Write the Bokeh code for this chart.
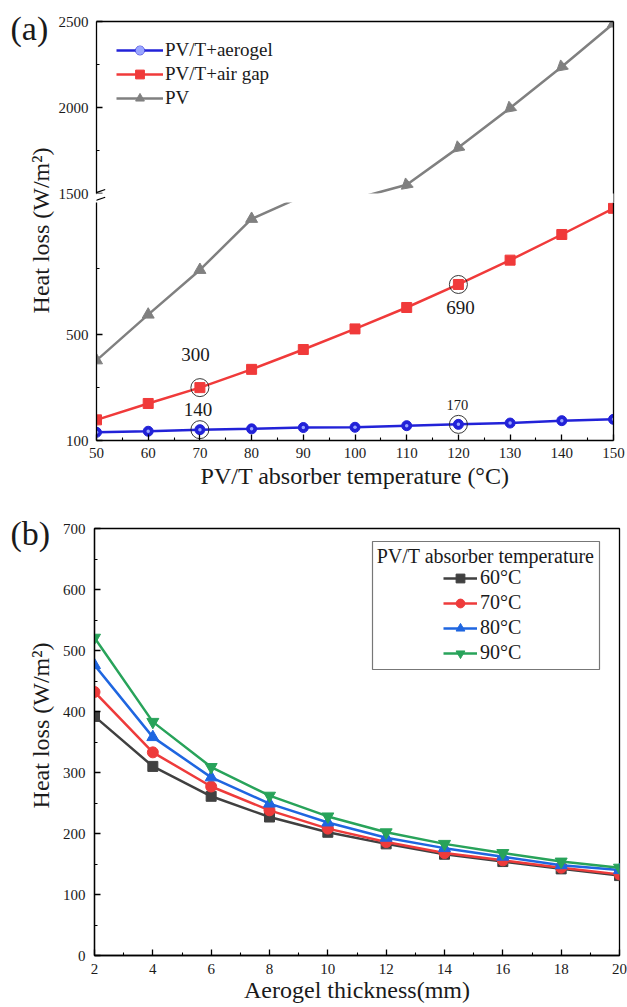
import math
from bokeh.plotting import figure
from bokeh.models import (Range1d, LinearAxis, FixedTicker, Legend, LegendItem,
                          Label, BoxAnnotation, Arrow)
from bokeh.layouts import column, row
from bokeh.embed import file_html
from bokeh.resources import INLINE

# ---------------- data: panel (a) ----------------
temps = [50, 60, 70, 80, 90, 100, 110, 120, 130, 140, 150]
aerogel = [131, 135, 141, 144, 149, 150, 156, 161, 166, 175, 180]
air_gap = [178, 240, 300, 369, 444, 522, 603, 690, 782, 879, 978]
pv = [403, 576, 745, 938, 1025, 1470, 1551, 1767, 1997, 2237, 2488]
ann_temps = [70, 70, 120, 120]
ann_series = ["air_gap", "aerogel", "air_gap", "aerogel"]
ann_texts = ["300", "140", "690", "170"]
break_low, break_high = 1000, 1500

# ---------------- data: panel (b) ----------------
thickness = [2, 4, 6, 8, 10, 12, 14, 16, 18, 20]
hl_60 = [392, 310, 261, 227, 202, 183, 166, 154, 142, 131]
hl_70 = [432, 333, 277, 238, 208, 186, 168, 156, 144, 133]
hl_80 = [476, 358, 292, 249, 218, 193, 176, 162, 148, 140]
hl_90 = [521, 383, 309, 262, 228, 202, 183, 168, 154, 144]
b_labels = ["60°C", "70°C", "80°C", "90°C"]

FONT = "Liberation Serif"
BLUE, RED, GRAY = "#2222d8", "#f03a3a", "#808080"
B_COLORS = ["#404040", "#ee3b3b", "#1f66e0", "#28a35a"]
B_MARKERS = ["square", "circle", "triangle", "inverted_triangle"]
B_SIZES = [10, 11, 12, 12]


def style_axis(ax, standoff=9):
    ax.axis_line_color = "black"
    ax.axis_line_width = 1.3
    ax.major_tick_line_color = "black"
    ax.major_tick_line_width = 1.3
    ax.minor_tick_line_color = "black"
    ax.minor_tick_line_width = 1.1
    ax.major_tick_in = 6
    ax.major_tick_out = 0
    ax.minor_tick_in = 3
    ax.minor_tick_out = 0
    ax.major_label_text_font = FONT
    ax.major_label_text_font_size = "15px"
    ax.major_label_text_color = "#1a1a1a"
    ax.major_label_standoff = standoff
    ax.axis_label_text_font = FONT
    ax.axis_label_text_font_style = "normal"
    ax.axis_label_text_font_size = "24px"
    ax.axis_label_text_color = "#1a1a1a"
    ax.axis_label_standoff = 2


def border_axis(fig, side):
    ax = LinearAxis(ticker=FixedTicker(ticks=[]), axis_line_color="black",
                    axis_line_width=1.3, major_tick_line_color=None,
                    minor_tick_line_color=None, major_label_text_font_size="0px")
    fig.add_layout(ax, side)


def base_fig(width, height, xr, yr, left, right, top, bottom, **kw):
    p = figure(width=width, height=height, x_range=xr, y_range=yr,
               output_backend="svg", toolbar_location=None,
               min_border_left=left, min_border_right=right,
               min_border_top=top, min_border_bottom=bottom,
               background_fill_color="white", border_fill_color="white",
               outline_line_color=None, **kw)
    p.grid.visible = False
    return p


def strip_fig(height, tag, tag_y, label_y):
    s = figure(width=55, height=height, x_range=Range1d(0, 1), y_range=Range1d(0, 1),
               output_backend="svg", toolbar_location=None, min_border=0,
               x_axis_location=None, y_axis_location=None, outline_line_color=None,
               border_fill_color="white", background_fill_color="white")
    s.grid.visible = False
    s.add_layout(Label(x=10, y=tag_y, x_units="screen", y_units="screen", text=tag,
                       text_font=FONT, text_font_size="34px", text_align="left",
                       text_baseline="middle", text_color="#1a1a1a"))
    s.add_layout(Label(x=40, y=label_y, x_units="screen", y_units="screen",
                       text="Heat loss (W/m²)", angle=math.pi / 2,
                       text_font=FONT, text_font_size="24px", text_align="center",
                       text_baseline="middle", text_color="#1a1a1a"))
    return s


def draw_top(p, upper=False):
    mk_t = [t for t, v in zip(temps, pv) if (v >= break_high or not upper)]
    mk_v = [v for v in pv if (v >= break_high or not upper)]
    mk_a = [2.27 if (upper and t < temps[-1]) else 0 for t in mk_t]
    r_pv_l = p.line(temps, pv, line_color=GRAY, line_width=2.5)
    r_pv_m = p.scatter(mk_t, mk_v, marker="triangle", size=12, angle=mk_a,
                       fill_color=GRAY, line_color=GRAY)
    r_air_l = p.line(temps, air_gap, line_color=RED, line_width=2.5)
    r_air_m = p.scatter(temps, air_gap, marker="square", size=10,
                        fill_color=RED, line_color=RED)
    r_ag_l = p.line(temps, aerogel, line_color=BLUE, line_width=2.5)
    r_ag_m = p.scatter(temps, aerogel, marker="circle", size=10,
                       fill_color=BLUE, line_color=BLUE)
    r_ag_h = p.scatter(temps, aerogel, marker="circle", size=3.5,
                       fill_color="#9aa6ff", line_color=None)
    return [r_ag_l, r_ag_m, r_ag_h], [r_air_l, r_air_m], [r_pv_l, r_pv_m]


# ---------------- panel (a): upper part of the broken axis ----------------
up = base_fig(572, 202, Range1d(50, 150), Range1d(1448, 2500), 38, 14, 21, 0,
              x_axis_location=None)
up.yaxis.ticker = FixedTicker(ticks=[1500, 2000, 2500], minor_ticks=[1750, 2250])
up.yaxis.bounds = (break_high, 2500)
style_axis(up.yaxis[0], 8)
border_axis(up, "above")
border_axis(up, "right")
ag_r, air_r, pv_r = draw_top(up, upper=True)
legend_a = Legend(items=[LegendItem(label="PV/T+aerogel", renderers=ag_r),
                         LegendItem(label="PV/T+air gap", renderers=air_r),
                         LegendItem(label="PV", renderers=pv_r)],
                  location=(20, 93), glyph_width=47, glyph_height=22,
                  label_height=22, spacing=2, padding=0, margin=0,
                  label_standoff=2, border_line_color=None,
                  background_fill_alpha=0, label_text_font=FONT,
                  label_text_font_size="19px", label_text_color="#1a1a1a")
up.add_layout(legend_a)
# white gap of the axis break, then the break marks
up.add_layout(BoxAnnotation(left=0, right=519, bottom=0, top=9,
                            left_units="screen", right_units="screen",
                            top_units="screen", bottom_units="screen",
                            fill_color="white", fill_alpha=1, line_color=None))
for xs, ys, xe, ye in [(-6.3, 7.7, 8.7, 13.0), (-6.3, 0.3, 8.7, 5.3)]:
    up.add_layout(Arrow(end=None, x_start=xs, y_start=ys, x_end=xe, y_end=ye,
                        start_units="screen", end_units="screen",
                        line_color="black", line_width=1.2))

# ---------------- panel (a): lower part ----------------
low = base_fig(572, 298, Range1d(50, 150), Range1d(100, break_low), 38, 14, 0, 60)
low.xaxis.ticker = FixedTicker(ticks=list(range(50, 151, 10)),
                               minor_ticks=list(range(55, 150, 10)))
low.yaxis.ticker = FixedTicker(ticks=[100, 500], minor_ticks=[300, 750])
style_axis(low.xaxis[0], 7)
style_axis(low.yaxis[0], 8)
low.xaxis.axis_label = "PV/T absorber temperature (°C)"
border_axis(low, "right")
draw_top(low)

series_map = {"air_gap": air_gap, "aerogel": aerogel}
ann_vals = [series_map[s][temps.index(t)] for s, t in zip(ann_series, ann_temps)]
low.scatter(ann_temps, ann_vals, marker="circle", size=18, fill_color=None,
            line_color="#222222", line_width=0.9)
ann_offsets = [(-4.5, 33), (-2, 20), (2, -23), (-1, 19)]
ann_sizes = ["19px", "19px", "19px", "14.5px"]
for t, v, txt, (dx, dy), fs in zip(ann_temps, ann_vals, ann_texts, ann_offsets, ann_sizes):
    low.add_layout(Label(x=t, y=v, x_offset=dx, y_offset=dy, text=txt,
                         text_align="center", text_baseline="middle",
                         text_font=FONT, text_font_size=fs, text_color="#1a1a1a"))

strip_a = strip_fig(500, "(a)", 472, 270)

# ---------------- panel (b) ----------------
pb = base_fig(572, 507, Range1d(2, 20), Range1d(0, 700), 39, 8, 28, 52)
pb.outline_line_color = "black"
pb.outline_line_width = 1.3
pb.xaxis.ticker = FixedTicker(ticks=thickness, minor_ticks=list(range(3, 20, 2)))
pb.yaxis.ticker = FixedTicker(ticks=list(range(0, 701, 100)),
                              minor_ticks=list(range(50, 700, 100)))
style_axis(pb.xaxis[0], 8)
style_axis(pb.yaxis[0], 9)
pb.xaxis.axis_label = "Aerogel thickness(mm)"
pb.xaxis.axis_label_standoff = 0

items_b = []
for ys, lbl, col, mk, sz in zip([hl_60, hl_70, hl_80, hl_90], b_labels,
                                B_COLORS, B_MARKERS, B_SIZES):
    rl = pb.line(thickness, ys, line_color=col, line_width=2.5)
    rm = pb.scatter(thickness, ys, marker=mk, size=sz, fill_color=col, line_color=col)
    items_b.append(LegendItem(label=lbl, renderers=[rl, rm]))

pb.add_layout(BoxAnnotation(left=278, right=505, bottom=286, top=414,
                            left_units="screen", right_units="screen",
                            top_units="screen", bottom_units="screen",
                            fill_color=None, line_color="#777777", line_width=1.2,
                            line_alpha=1))
pb.add_layout(Label(x=391, y=400, x_units="screen", y_units="screen",
                    text="PV/T absorber temperature", text_font=FONT,
                    text_font_size="20px", text_align="center",
                    text_baseline="middle", text_color="#1a1a1a"))
legend_b = Legend(items=items_b, location=(349, 291), glyph_width=34,
                  glyph_height=22, label_height=22, spacing=2, padding=0,
                  margin=0, label_standoff=3, border_line_color=None,
                  background_fill_alpha=0, label_text_font=FONT,
                  label_text_font_size="20px", label_text_color="#1a1a1a")
pb.add_layout(legend_b)

strip_b = strip_fig(507, "(b)", 474, 282)

layout = column(row(strip_a, column(up, low)), row(strip_b, column(pb)))
open("out.html", "w").write(file_html(layout, INLINE, "Heat loss"))
